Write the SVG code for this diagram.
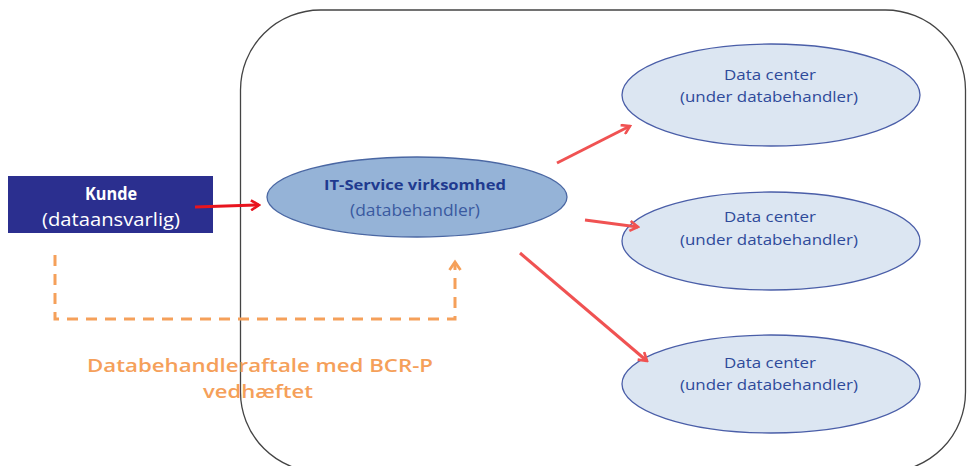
<svg xmlns="http://www.w3.org/2000/svg" width="968" height="466" viewBox="0 0 968 466">
<style>
text{font-family:"Open Sans","Noto Sans","DejaVu Sans",sans-serif;text-anchor:middle}
.dc{fill:#dce6f2;stroke:#4a5ea8;stroke-width:1.3}
.dct{font-size:14px;fill:#2e4a9a}
.red{stroke:#f05252;stroke-width:3;fill:none}
</style>
<defs>
<marker id="ah" viewBox="0 0 12 12" refX="10" refY="6" markerWidth="12" markerHeight="12" markerUnits="userSpaceOnUse" orient="auto">
<path d="M2,1 L10,6 L2,11" fill="none" stroke="#f05252" stroke-width="2.6"/>
</marker>
<marker id="ah1" viewBox="0 0 12 12" refX="10" refY="6" markerWidth="12" markerHeight="12" markerUnits="userSpaceOnUse" orient="auto">
<path d="M2,1 L10,6 L2,11" fill="none" stroke="#e8141e" stroke-width="2.6"/>
</marker>
<marker id="ao" viewBox="0 0 14 14" refX="11" refY="7" markerWidth="14" markerHeight="14" markerUnits="userSpaceOnUse" orient="auto">
<path d="M3,1.5 L11,7 L3,12.5" fill="none" stroke="#f5a05a" stroke-width="2.8"/>
</marker>
</defs>
<rect x="0" y="0" width="968" height="466" fill="#ffffff"/>
<g id="boundary">
<rect x="240.5" y="10" width="725" height="462" rx="80" ry="80" fill="none" stroke="#444" stroke-width="1.3"/>
</g>
<g id="kunde">
<rect x="8" y="176" width="205" height="57" fill="#2b2f8f"/>
<text x="111" y="200" font-size="18" font-weight="bold" fill="#fff" textLength="52" lengthAdjust="spacingAndGlyphs">Kunde</text>
<text x="111" y="226" font-size="19" fill="#fff" textLength="138" lengthAdjust="spacingAndGlyphs">(dataansvarlig)</text>
</g>
<g id="it-service">
<ellipse cx="417" cy="197" rx="150" ry="40" fill="#95b3d7" stroke="#4a67a3" stroke-width="1.3"/>
<text x="415" y="190" font-size="15" font-weight="bold" fill="#1f3a8f" textLength="182" lengthAdjust="spacingAndGlyphs">IT-Service virksomhed</text>
<text x="415" y="216" font-size="17" fill="#3a5aa0" textLength="130" lengthAdjust="spacingAndGlyphs">(databehandler)</text>
</g>
<g id="dc1">
<ellipse class="dc" cx="771" cy="95" rx="149" ry="51"/>
<text class="dct" x="770" y="80" textLength="92" lengthAdjust="spacingAndGlyphs">Data center</text>
<text class="dct" x="769" y="102" textLength="178" lengthAdjust="spacingAndGlyphs">(under databehandler)</text>
</g>
<g id="dc2">
<ellipse class="dc" cx="771" cy="241" rx="149" ry="49"/>
<text class="dct" x="770" y="222" textLength="92" lengthAdjust="spacingAndGlyphs">Data center</text>
<text class="dct" x="769" y="245" textLength="178" lengthAdjust="spacingAndGlyphs">(under databehandler)</text>
</g>
<g id="dc3">
<ellipse class="dc" cx="771" cy="384" rx="149" ry="49"/>
<text class="dct" x="770" y="368" textLength="92" lengthAdjust="spacingAndGlyphs">Data center</text>
<text class="dct" x="769" y="390" textLength="178" lengthAdjust="spacingAndGlyphs">(under databehandler)</text>
</g>
<g id="connectors">
<line x1="195" y1="207" x2="259" y2="205" stroke="#e8141e" stroke-width="3" marker-end="url(#ah1)"/>
<line class="red" x1="557" y1="163" x2="630" y2="126" marker-end="url(#ah)"/>
<line class="red" x1="585" y1="220" x2="638" y2="227" marker-end="url(#ah)"/>
<line class="red" x1="520" y1="253" x2="647" y2="361" marker-end="url(#ah)"/>
<path d="M55,255 V319 H455 V262" fill="none" stroke="#f5a05a" stroke-width="3" stroke-dasharray="11,8" marker-end="url(#ao)"/>
</g>
<g id="label">
<text x="260" y="372" font-size="18" font-weight="600" fill="#f5a05a" textLength="346" lengthAdjust="spacingAndGlyphs">Databehandleraftale med BCR-P</text>
<text x="258" y="398" font-size="18" font-weight="600" fill="#f5a05a" textLength="110" lengthAdjust="spacingAndGlyphs">vedhæftet</text>
</g>
</svg>
